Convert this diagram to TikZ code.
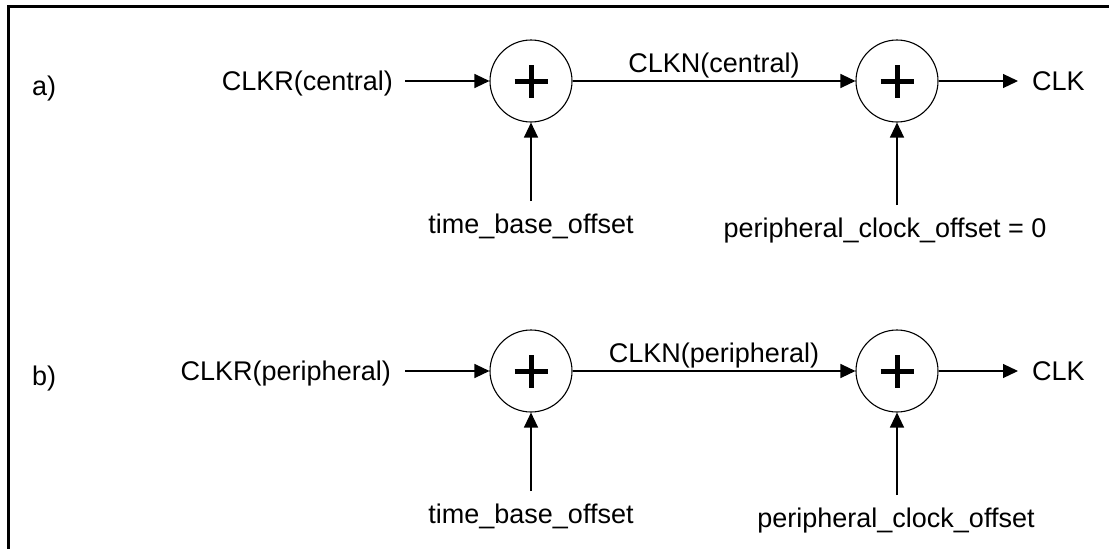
\documentclass[tikz,border=0pt]{standalone}
\usepackage{fontspec}
\setmainfont{Liberation Sans}
\usetikzlibrary{arrows.meta}
\begin{document}
\begin{tikzpicture}[x=1pt,y=-1pt,
  sum/.style={circle,draw,line width=1.1pt,minimum size=82pt,inner sep=0pt,
    path picture={
      \draw[line width=5pt] ([xshift=-16.5pt]path picture bounding box.center) -- ([xshift=16.5pt]path picture bounding box.center);
      \draw[line width=5pt] ([yshift=-16.5pt]path picture bounding box.center) -- ([yshift=16.5pt]path picture bounding box.center);}},
  lbl/.style={font=\fontsize{27}{32}\selectfont, inner sep=0pt},
  conn/.style={line width=1.2pt, -{Triangle[length=15pt,width=14pt]}},
  frame/.style={line width=3pt}]
\useasboundingbox (0,0) rectangle (1109,549);
\draw[frame] (8,549) -- (8,6) -- (1109,6);

% row a
\node[sum] (a1) at (531,81) {};
\node[sum] (a2) at (897,81) {};
\node[lbl,anchor=base west] (la) at (32,95) {a)};
\node[lbl,anchor=base east] (ina) at (393,90.5) {CLKR(central)};
\node[lbl,anchor=base] (mida) at (714,72) {CLKN(central)};
\node[lbl,anchor=base west] (outa) at (1032,90.5) {CLK};
\node[lbl,anchor=base] (tba) at (531,233) {time\_base\_offset};
\node[lbl,anchor=base] (pca) at (885,237) {peripheral\_clock\_offset = 0};
\draw[conn] (ina.east |- a1) ++(12,0) coordinate (ina-s) -- (a1);
\draw[conn] (a1) -- (a2);
\draw[conn,shorten >=14pt] (a2) -- (outa.west |- a2);
\draw[conn,shorten <=12pt] (tba.north -| a1) -- (a1);
\draw[conn,shorten <=12pt] (pca.north -| a2) -- (a2);

% row b
\node[sum] (b1) at (531,371) {};
\node[sum] (b2) at (897,371) {};
\node[lbl,anchor=base west] (lb) at (32,385) {b)};
\node[lbl,anchor=base east] (inb) at (391,380.5) {CLKR(peripheral)};
\node[lbl,anchor=base] (midb) at (714,362) {CLKN(peripheral)};
\node[lbl,anchor=base west] (outb) at (1032,380.5) {CLK};
\node[lbl,anchor=base] (tbb) at (531,523) {time\_base\_offset};
\node[lbl,anchor=base] (pcb) at (896,527) {peripheral\_clock\_offset};
\draw[conn] (inb.east |- b1) ++(14,0) coordinate (inb-s) -- (b1);
\draw[conn] (b1) -- (b2);
\draw[conn,shorten >=14pt] (b2) -- (outb.west |- b2);
\draw[conn,shorten <=12pt] (tbb.north -| b1) -- (b1);
\draw[conn,shorten <=12pt] (pcb.north -| b2) -- (b2);
\end{tikzpicture}
\end{document}
